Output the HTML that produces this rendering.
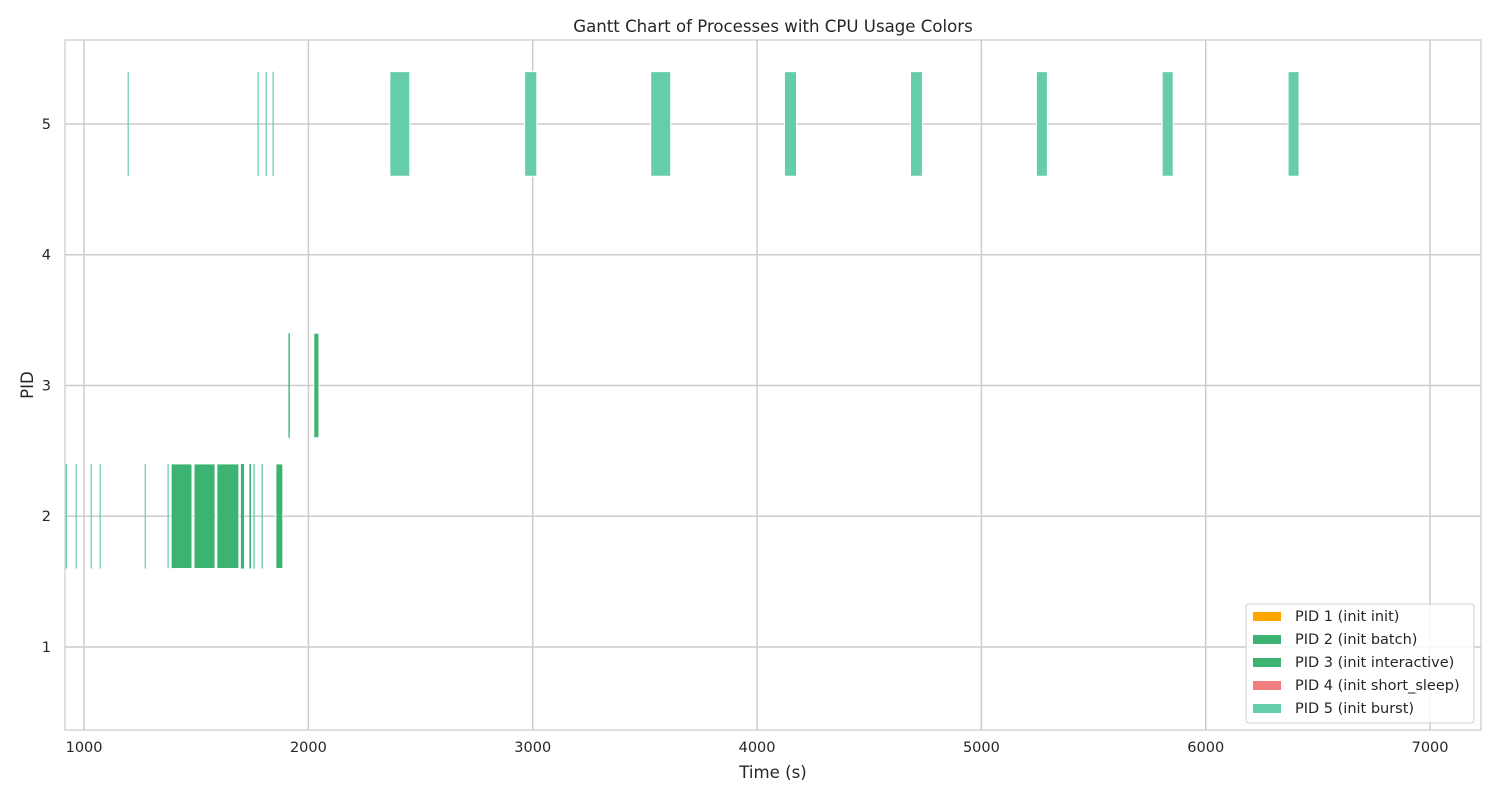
<!DOCTYPE html>
<html><head><meta charset="utf-8"><style>
html,body{margin:0;padding:0;background:#fff;}
svg{display:block;font-family:"DejaVu Sans","Liberation Sans",sans-serif;}
</style></head><body>
<svg id="chart" width="1500" height="800" viewBox="0 0 1500 800" xmlns="http://www.w3.org/2000/svg">
<text x="773" y="32" text-anchor="middle" font-size="16.6" fill="#262626">Gantt Chart of Processes with CPU Usage Colors</text>
<g id="grid"></g>
<g id="bars"></g>
<rect x="65" y="40" width="1416" height="690" fill="none" stroke="#cccccc" stroke-width="1.25"/>
<g id="ticks"></g>
<text x="773" y="778" text-anchor="middle" font-size="16.6" fill="#262626">Time (s)</text>
<text transform="translate(33,385) rotate(-90)" text-anchor="middle" font-size="16.6" fill="#262626">PID</text>
<g id="legend">
<rect x="1246" y="604" width="228" height="119" rx="3" fill="#fff" fill-opacity="0.85" stroke="#d0d0d0"/>
</g>
</svg>
<script>
const xTicks = [1000, 2000, 3000, 4000, 5000, 6000, 7000];
const yTicks = [1, 2, 3, 4, 5];
const barPids   = [2,2,2,2,2,2,2,2,2,2,2,2,2,2, 3,3, 5,5,5,5,5,5,5,5,5,5,5,5];
const barStarts = [918,962,1029,1069,1270,1372,1388,1490,1592,1699,1737,1755,1791,1855, 1911,2024, 1194,1773,1809,1840,2363,2964,3526,4122,4684,5245,5806,6367];
const barEnds   = [924,967,1034,1074,1275,1377,1481,1584,1690,1713,1744,1761,1797,1886, 1917,2047, 1199,1778,1814,1845,2452,3018,3615,4176,4737,5294,5855,6416];
const barShades = ['#66cdaa','#66cdaa','#66cdaa','#66cdaa','#66cdaa','#66cdaa','#3cb371','#3cb371','#3cb371','#3cb371','#3cb371','#66cdaa','#66cdaa','#3cb371','#3cb371','#3cb371','#66cdaa','#66cdaa','#66cdaa','#66cdaa','#66cdaa','#66cdaa','#66cdaa','#66cdaa','#66cdaa','#66cdaa','#66cdaa','#66cdaa'];
const legendLabels = ['PID 1 (init init)','PID 2 (init batch)','PID 3 (init interactive)','PID 4 (init short_sleep)','PID 5 (init burst)'];
const legendColors = ['#ffa500','#3cb371','#3cb371','#f08080','#66cdaa'];

const NS='http://www.w3.org/2000/svg';
const X0=65,X1=1481,Y0=40,Y1=730,XMIN=915,XMAX=7227,YMIN=0.365,YMAX=5.642;
function xs(v){return X0+(v-XMIN)/(XMAX-XMIN)*(X1-X0);}
function ys(v){return Y1-(v-YMIN)/(YMAX-YMIN)*(Y1-Y0);}
function mk(t,a,p){const e=document.createElementNS(NS,t);for(const k in a)e.setAttribute(k,a[k]);p.appendChild(e);return e;}
const grid=document.getElementById('grid'),bars=document.getElementById('bars'),ticks=document.getElementById('ticks'),legend=document.getElementById('legend');
xTicks.forEach(v=>{
  const l=mk('line',{x1:xs(v),x2:xs(v),y1:Y0,y2:Y1,stroke:'#cccccc','stroke-width':1.5},grid);
  
  
  const t=mk('text',{x:xs(v),y:752,'text-anchor':'middle','font-size':14.5,fill:'#262626'},ticks);
  t.textContent=v;
  
  
});
yTicks.forEach(v=>{
  const l=mk('line',{x1:X0,x2:X1,y1:ys(v),y2:ys(v),stroke:'#cccccc','stroke-width':1.5},grid);
  
  
  const t=mk('text',{x:51,y:ys(v)+5,'text-anchor':'end','font-size':14.5,fill:'#262626'},ticks);
  t.textContent=v;
  
  
});
barPids.forEach((p,i)=>{
  const x=xs(barStarts[i]),w=Math.max(1.2,xs(barEnds[i])-x);
  const r=mk('rect',{x:x,y:ys(p+0.4),width:w,height:ys(p-0.4)-ys(p+0.4),fill:barShades[i],stroke:'#fff','stroke-width':w>4?1:0},bars);
  
  
});
legendLabels.forEach((lab,i)=>{
  const y=616+i*23;
  const r=mk('rect',{x:1253,y:y-4,width:28,height:9,fill:legendColors[i]},legend);
  
  
  const t=mk('text',{x:1295,y:y+5,'font-size':14.5,fill:'#262626'},legend);
  t.textContent=lab;
  
  
});
</script>
</body></html>
